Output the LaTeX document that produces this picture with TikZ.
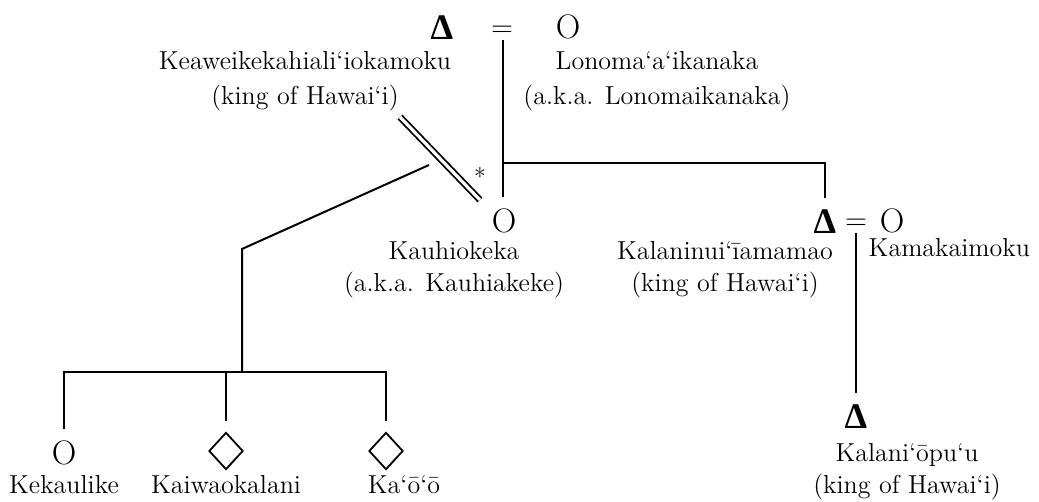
\documentclass[tikz,border=0pt]{standalone}
\usepackage{amsmath}
\usepackage{fontspec}
\usepackage{tikz}
\usetikzlibrary{calc,shapes.geometric}
\newfontfamily\pedfont{Liberation Serif}

\begin{document}
\begin{tikzpicture}[x=0.5pt,y=-0.5pt,line width=1pt,font=\fontsize{13}{16}\selectfont]
\tikzstyle{male}=[inner sep=0pt,outer sep=6pt,font=\pedfont\bfseries\fontsize{18}{18}\selectfont]
\tikzstyle{female}=[inner sep=0pt,outer sep=6pt,font=\fontsize{17}{17}\selectfont]
\tikzstyle{unknown}=[diamond,draw,line width=0.9pt,inner sep=0pt,minimum width=20pt,minimum height=21.5pt,outer sep=4pt]
\tikzstyle{wed}=[inner sep=1.5pt,font=\fontsize{14}{14}\selectfont]
\tikzstyle{who}=[inner sep=0pt,align=center,anchor=north]

\useasboundingbox (0,0) rectangle (1039,502);

% first generation
\node(keawe)[male] at (442,28) {Δ};
\node(wedA)[wed] at (502,31) {$=$};
\node(lono)[female] at (568,27) {O};
\node(keaweName)[who,font=\fontsize{13}{17.5}\selectfont] at (305,50) {Keaweikekahiali‘iokamoku\\(king of Hawai‘i)};
\node(lonoName)[who,font=\fontsize{13}{17.5}\selectfont] at (657,50) {Lonoma‘a‘ikanaka\\(a.k.a. Lonomaikanaka)};

% second generation
\node(kauhi)[female] at (504,221) {O};
\node(kauhiName)[who] at (454,240) {Kauhiokeka\\(a.k.a. Kauhiakeke)};
\node(kalaninui)[male] at (825,222) {Δ};
\node(wedB)[wed] at (856,224) {$=$};
\node(kama)[female] at (892,221) {O};
\node(kalaninuiName)[who] at (725,240) {Kalaninui‘\=\i amamao\\(king of Hawai‘i)};
\node(kamaName)[inner sep=0pt,anchor=base east] at (1031,257) {Kamakaimoku};

% third generation
\node(kekaulike)[female] at (64,453) {O};
\node(kaiwa)[unknown] at (226,451) {};
\node(kaoo)[unknown] at (386,451) {};
\node(kalaniopuu)[male] at (856,417) {Δ};
\node[inner sep=0pt,anchor=base] at (64,493) {Kekaulike};
\node[inner sep=0pt,anchor=base] at (226,493) {Kaiwaokalani};
\node[inner sep=0pt,anchor=base] at (404,493) {Ka‘ō‘ō};
\node(kalaniopuuName)[who] at (907,442) {Kalani‘ōpu‘u\\(king of Hawai‘i)};

% union of Keawe and Kauhiokeka
\coordinate(dblA) at (400,117);
\coordinate(dblB) at (480,200);
\draw[double,line width=0.9pt,double distance=1.6pt] (dblA) -- (dblB);
\node[inner sep=0pt,font=\fontsize{12}{12}\selectfont] at (480,177) {*};

% children of Keawe and Kauhiokeka
\coordinate(desc) at (429,165);
\coordinate(bend) at (242,249);
\coordinate(sibs) at (242,372);
\draw (desc) -- (bend) -- (sibs);
\draw (kekaulike) |- (sibs) -| (kaoo);
\draw (kaiwa) -- (kaiwa |- sibs);

% children of Keawe and Lonoma'a'ikanaka
\coordinate(sibR) at (503,163);
\draw (wedA.south -| sibR) -- (sibR |- kauhi.north);
\draw (sibR) -| (kalaninui);

% child of Kalaninui'iamamao and Kamakaimoku
\draw (wedB) -- (kalaniopuu);

\end{tikzpicture}
\end{document}
